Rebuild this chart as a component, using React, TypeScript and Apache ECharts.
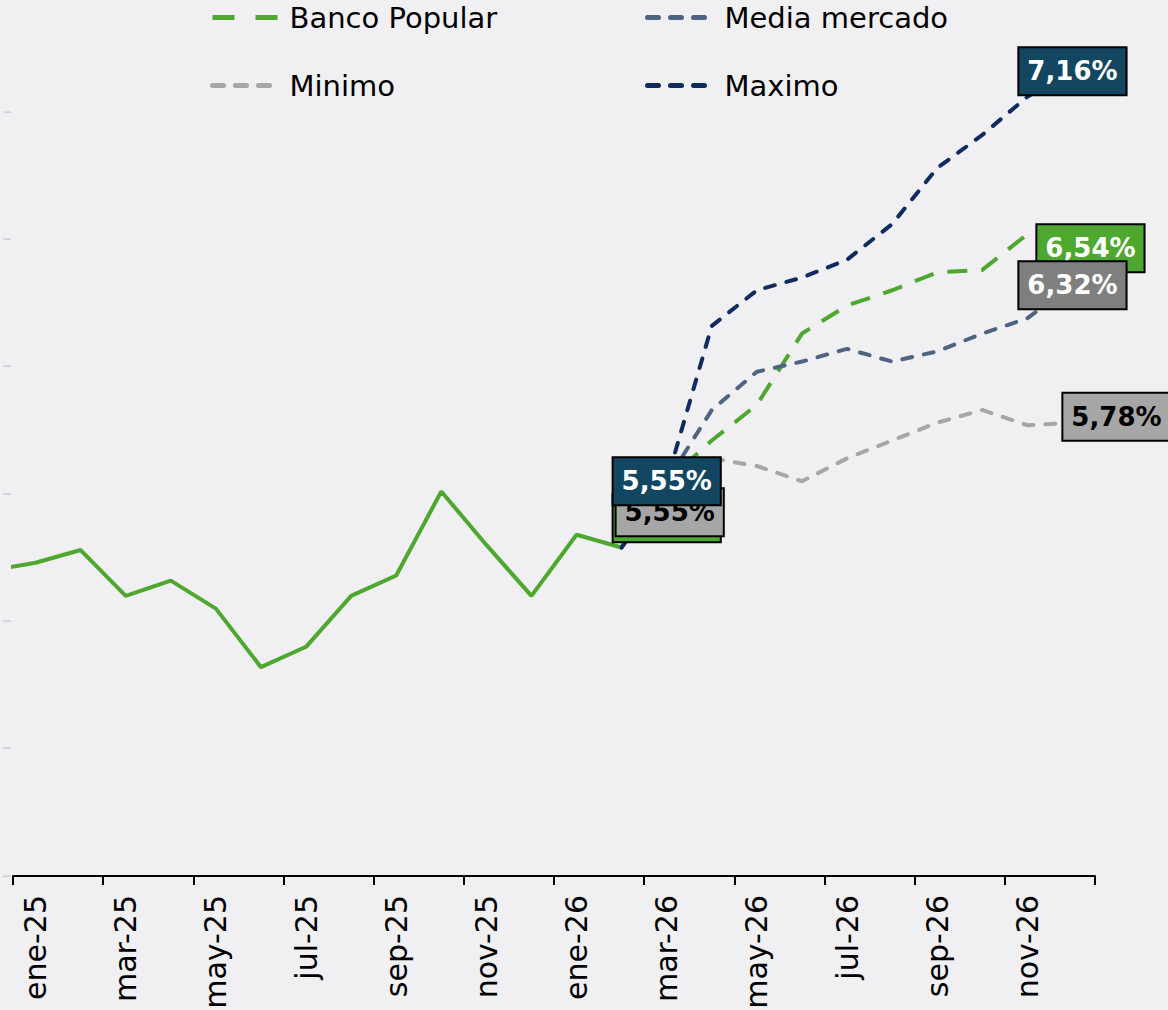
import React, { useEffect, useRef } from "react";
import * as echarts from "echarts";

const months = [
  "dic-24", "ene-25", "feb-25", "mar-25", "abr-25", "may-25", "jun-25", "jul-25", "ago-25",
  "sep-25", "oct-25", "nov-25", "dic-25", "ene-26", "feb-26", "mar-26", "abr-26", "may-26",
  "jun-26", "jul-26", "ago-26", "sep-26", "oct-26", "nov-26", "dic-26",
];

// historical values (dic-24 .. feb-26)
const actual = [5.2, 5.23, 5.28, 5.1, 5.16, 5.05, 4.82, 4.9, 5.1, 5.18, 5.51, 5.3, 5.1, 5.34, 5.29];

// forecasts (feb-26 .. dic-26)
const forecastStart = "feb-26";
const bancoPopular = [5.29, 5.55, 5.71, 5.85, 6.13, 6.24, 6.3, 6.37, 6.38, 6.52, 6.54];
const mediaMercado = [5.29, 5.55, 5.83, 5.98, 6.02, 6.07, 6.02, 6.06, 6.13, 6.19, 6.32];
const minimo = [5.29, 5.55, 5.64, 5.61, 5.55, 5.64, 5.71, 5.78, 5.83, 5.77, 5.78];
const maximo = [5.29, 5.55, 6.16, 6.3, 6.35, 6.42, 6.56, 6.78, 6.91, 7.06, 7.16];

const yTicksMin = 4;
const yTicksMax = 7.5;
const yTickStep = 0.5;

const FONT = "DejaVu Sans";
const fmt = (v: number) => v.toFixed(2).replace(".", ",") + "%";

export default function App() {
  const ref = useRef<HTMLDivElement>(null);
  useEffect(() => {
    if (!ref.current) return;
    const chart = echarts.init(ref.current, null, { renderer: "svg" });
    const fIdx = months.indexOf(forecastStart);
    const toX = (i: number) => i - 0.5;
    const fc = (arr: number[]) => arr.map((v, k) => [toX(fIdx + k), v]);

    const mp = (arr: number[], items: { month: string; offset: number[]; bg: string; color: string }[]) => ({
      symbol: "circle",
      symbolSize: 0,
      silent: true,
      data: items.map((it) => {
        const mi = months.indexOf(it.month);
        const v = arr[mi - fIdx];
        return {
          coord: [toX(mi), v],
          value: v,
          label: {
            show: true,
            position: "inside",
            offset: it.offset,
            formatter: (p: any) => fmt(p.value),
            backgroundColor: it.bg,
            color: it.color,
            borderColor: "#000",
            borderWidth: 2,
            padding: [8, 8],
            fontSize: 26,
            lineHeight: 30,
            fontWeight: "bold",
            fontFamily: FONT,
          },
        };
      }),
    });

    const navy = "#0f2b5f";
    const green = "#4ea72e";
    const slate = "#4f6382";
    const lgray = "#a6a6a6";
    const shortDash = [10, 12];

    const legendBase = {
      itemWidth: 65,
      itemHeight: 4,
      padding: 0,
      itemStyle: { opacity: 0 },
      textStyle: { fontSize: 29, color: "#000", fontFamily: FONT, padding: [0, 0, 0, 7] },
    };

    chart.setOption({
      animation: false,
      backgroundColor: "#f0eff2",
      textStyle: { fontFamily: FONT },
      legend: [
        { ...legendBase, data: ["Banco Popular"], left: 210, top: 3, lineStyle: { width: 5, type: [22, 21], color: green } },
        { ...legendBase, data: ["Media mercado"], left: 645, top: 3, lineStyle: { width: 5, type: [11, 12], cap: "round", color: slate } },
        { ...legendBase, data: ["Minimo"], left: 210, top: 71, lineStyle: { width: 5, type: [11, 12], cap: "round", color: lgray } },
        { ...legendBase, data: ["Maximo"], left: 645, top: 71, lineStyle: { width: 5, type: [11, 12], cap: "round", color: navy } },
      ],
      grid: { left: 13, right: 73, top: -15.33, bottom: 134, containLabel: false, outerBoundsMode: "none" },
      xAxis: [
        {
          type: "value",
          min: 0,
          max: months.length - 1,
          interval: 2,
          position: "bottom",
          axisLine: { show: true, lineStyle: { color: "#000", width: 2 } },
          axisTick: { show: true, length: 9, lineStyle: { color: "#000", width: 2 } },
          axisLabel: { show: false },
          splitLine: { show: false },
        },
        {
          type: "category",
          data: months.slice(1),
          boundaryGap: true,
          position: "bottom",
          axisLine: { show: false },
          axisTick: { show: false },
          axisLabel: { interval: 1, rotate: 90, fontSize: 30, margin: 19, color: "#000", fontFamily: FONT },
          splitLine: { show: false },
        },
      ],
      yAxis: {
        type: "value",
        min: yTicksMin,
        max: yTicksMax,
        interval: yTickStep,
        axisLine: { show: false },
        axisTick: { show: false },
        splitLine: { show: false },
        axisLabel: {
          fontSize: 2.5,
          color: "#888",
          margin: 2,
          showMaxLabel: false,
          formatter: (v: number) => fmt(v),
        },
      },
      series: [
        {
          name: "Histórico",
          type: "line",
          xAxisIndex: 0,
          symbol: "none",
          data: actual.map((v, i) => [toX(i), v]),
          lineStyle: { color: green, width: 4 },
          itemStyle: { color: green },
          clip: true,
          z: 3,
        },
        {
          name: "Banco Popular",
          type: "line",
          xAxisIndex: 0,
          symbol: "none",
          data: fc(bancoPopular),
          lineStyle: { color: green, width: 4, type: [20, 14] },
          itemStyle: { color: green },
          clip: false,
          markPoint: mp(bancoPopular, [
            { month: "mar-26", offset: [0, 37], bg: green, color: "#fff" },
            { month: "dic-26", offset: [18, 19], bg: green, color: "#fff" },
          ]),
        },
        {
          name: "Minimo",
          type: "line",
          xAxisIndex: 0,
          symbol: "none",
          data: fc(minimo),
          lineStyle: { color: lgray, width: 4, type: shortDash, cap: "round" },
          itemStyle: { color: lgray },
          clip: false,
          markPoint: mp(minimo, [
            { month: "mar-26", offset: [3, 31], bg: lgray, color: "#000" },
            { month: "dic-26", offset: [44, -6], bg: lgray, color: "#000" },
          ]),
        },
        {
          name: "Media mercado",
          type: "line",
          xAxisIndex: 0,
          symbol: "none",
          data: fc(mediaMercado),
          lineStyle: { color: slate, width: 4, type: shortDash, cap: "round" },
          itemStyle: { color: slate },
          clip: false,
          markPoint: mp(mediaMercado, [{ month: "dic-26", offset: [0, 0], bg: "#7f7f7f", color: "#fff" }]),
        },
        {
          name: "Maximo",
          type: "line",
          xAxisIndex: 0,
          symbol: "none",
          data: fc(maximo),
          lineStyle: { color: navy, width: 4, type: shortDash, cap: "round" },
          itemStyle: { color: navy },
          clip: false,
          markPoint: mp(maximo, [
            { month: "mar-26", offset: [0, 0], bg: "#134660", color: "#fff" },
            { month: "dic-26", offset: [0, 0], bg: "#134660", color: "#fff" },
          ]),
        },
      ],
    });
    return () => chart.dispose();
  }, []);
  return <div ref={ref} style={{ position: "fixed", left: 0, top: 0, width: 1168, height: 1010 }} />;
}
